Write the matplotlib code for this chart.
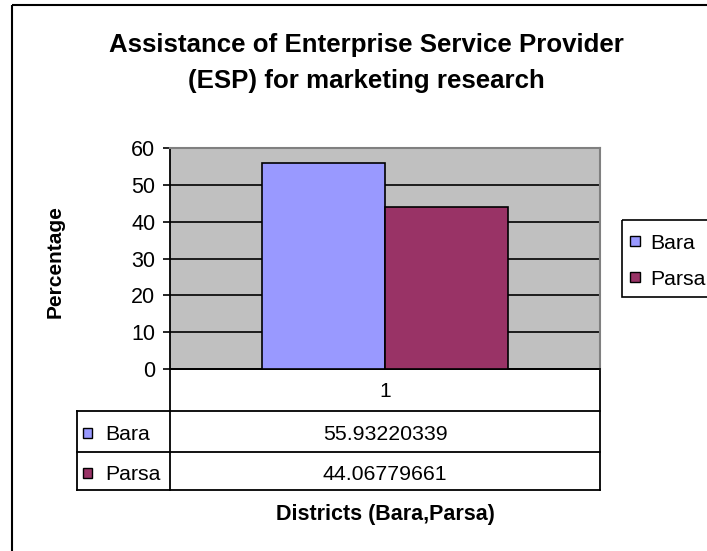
import matplotlib
matplotlib.use("Agg")
import matplotlib.pyplot as plt
from matplotlib.patches import Rectangle

plt.rcParams['font.family'] = ['Liberation Sans', 'DejaVu Sans']

# data
districts = ['Bara', 'Parsa']
percentages = [55.93220339, 44.06779661]
bar_colors = ['#9999FF', '#993366']
category_labels = ['1']
y_ticks = [0, 10, 20, 30, 40, 50, 60]

W, H = 707, 551
fig = plt.figure(figsize=(W / 100, H / 100), dpi=100)

# background layer in pixel coordinates, origin at top left
bg = fig.add_axes([0, 0, 1, 1])
bg.set_xlim(0, W)
bg.set_ylim(H, 0)
bg.axis('off')


def px_box(l, t, r, b):
    return [l / W, 1 - b / H, (r - l) / W, (b - t) / H]


# chart border (runs off the right and bottom of the picture)
bg.add_patch(Rectangle((12, 5), 800, 600, fill=False, edgecolor='black', linewidth=1.5))

# title
bg.text(366, 52, 'Assistance of Enterprise Service Provider', ha='center', va='baseline',
        fontsize=18.6, fontweight='bold')
bg.text(366, 88, '(ESP) for marketing research', ha='center', va='baseline',
        fontsize=18.6, fontweight='bold')

# plot area
left, top, right, bottom = 170, 148, 600, 369
ax = fig.add_axes(px_box(left, top, right, bottom))
ax.set_facecolor('#C0C0C0')
bw = 0.287
n = len(districts)
for i, (val, col) in enumerate(zip(percentages, bar_colors)):
    ax.bar((i - (n - 1) / 2) * bw, val, width=bw, color=col,
           edgecolor='black', linewidth=1.2, zorder=3)
ax.set_xlim(-0.5, 0.5)
ax.set_ylim(0, 60)
ax.set_yticks(y_ticks)
ax.set_xticks([])
ax.yaxis.grid(True, color='black', linewidth=1.2)
ax.get_ygridlines()[-1].set_visible(False)
ax.set_axisbelow(True)
ax.tick_params(axis='y', labelsize=15.5, length=5, width=1.2, pad=5.5)
for s in ['top', 'right']:
    ax.spines[s].set_color('#808080')
    ax.spines[s].set_linewidth(1.5)
for s in ['left', 'bottom']:
    ax.spines[s].set_color('black')
    ax.spines[s].set_linewidth(1.3)

bg.text(55, 262, 'Percentage', rotation=90, ha='center', va='center',
        fontsize=15, fontweight='bold')

# data table below the plot
row_lines = [bottom, 411, 452, 490]
tbl_left = 77
lw = 1.3
bg.plot([left, right], [row_lines[0]] * 2, color='black', lw=lw)
for y in row_lines[1:]:
    bg.plot([tbl_left, right], [y, y], color='black', lw=lw)
bg.plot([left, left], [row_lines[0], row_lines[-1]], color='black', lw=lw)
bg.plot([right, right], [row_lines[0], row_lines[-1]], color='black', lw=lw)
bg.plot([tbl_left, tbl_left], [row_lines[1], row_lines[-1]], color='black', lw=lw)

mid = (left + right) / 2
bg.text(mid, 397, category_labels[0], ha='center', va='baseline', fontsize=15)
value_baselines = [440, 480]
for name, val, col, yb in zip(districts, percentages, bar_colors, value_baselines):
    bg.text(mid, yb, f'{val:.8f}', ha='center', va='baseline', fontsize=15.3)
    bg.add_patch(Rectangle((83, yb - 12), 9, 10, facecolor=col, edgecolor='black', linewidth=1))
    bg.text(105, yb, name, ha='left', va='baseline', fontsize=15.3)

bg.text(mid, 520, 'Districts (Bara,Parsa)', ha='center', va='baseline',
        fontsize=15.5, fontweight='bold')

# legend
bg.add_patch(Rectangle((622, 220), 120, 77, fill=False, edgecolor='black', linewidth=1.2))
for name, col, yb in zip(districts, bar_colors, [249, 285]):
    bg.add_patch(Rectangle((630, yb - 13), 10, 10, facecolor=col, edgecolor='black', linewidth=1))
    bg.text(650, yb, name, ha='left', va='baseline', fontsize=15.3)

fig.savefig('out.png', dpi=100)
